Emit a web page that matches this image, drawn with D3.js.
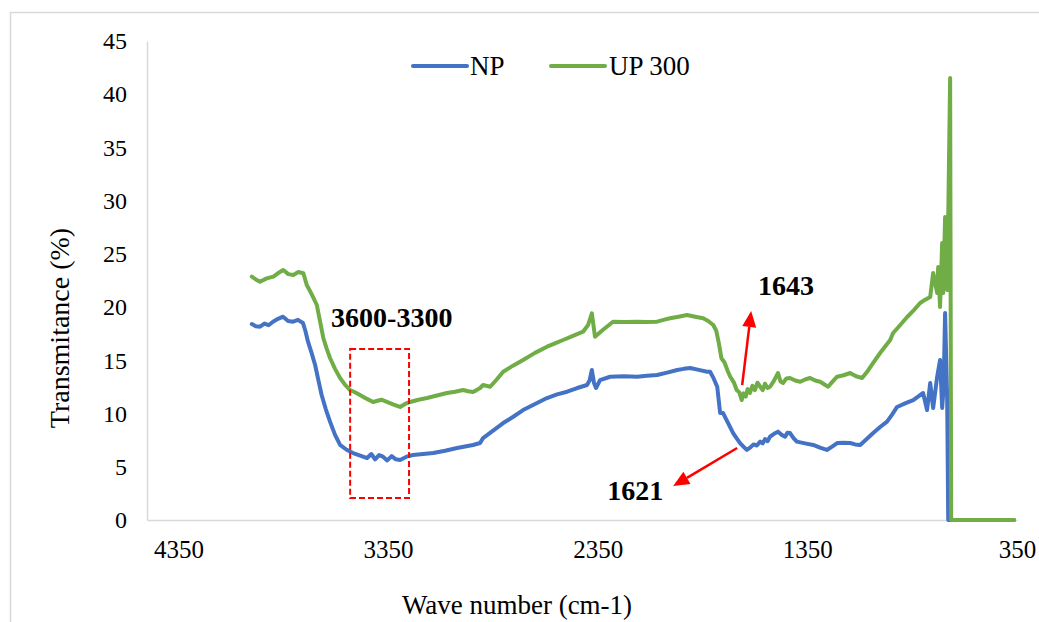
<!DOCTYPE html>
<html>
<head>
<meta charset="utf-8">
<script src="https://cdn.jsdelivr.net/npm/d3@7"></script>
<style>
  html, body { margin: 0; padding: 0; background: #fff; }
  svg { display: block; }
</style>
</head>
<body>
<svg id="chart" width="1039" height="622"></svg>
<script>
// ---- Data ----
const seriesNames = ["NP", "UP 300"];
const seriesColors = ["#4472C4", "#70AD47"];

const npWavenumber = [4000, 3981, 3961, 3940, 3920, 3899, 3875, 3851, 3827, 3803, 3780, 3756, 3745, 3732, 3715, 3698, 3682, 3667, 3647, 3627, 3603, 3579, 3548, 3517, 3483, 3450, 3430, 3412, 3393, 3374, 3354, 3333, 3313, 3293, 3262, 3231, 3183, 3135, 3078, 3021, 2983, 2945, 2911, 2897, 2849, 2801, 2753, 2706, 2649, 2592, 2544, 2496, 2448, 2401, 2389, 2378, 2368, 2358, 2339, 2291, 2226, 2162, 2115, 2067, 2019, 1971, 1940, 1909, 1868, 1828, 1814, 1797, 1780, 1766, 1752, 1728, 1704, 1688, 1671, 1655, 1639, 1623, 1607, 1591, 1575, 1563, 1552, 1540, 1528, 1509, 1490, 1473, 1456, 1445, 1433, 1416, 1400, 1361, 1322, 1290, 1257, 1232, 1208, 1177, 1146, 1122, 1098, 1067, 1036, 1003, 970, 946, 922, 884, 845, 822, 798, 779, 764, 750, 731, 717, 707, 700, 693, 683, 678, 364];
const npTransmittance = [18.41, 18.2, 18.16, 18.45, 18.3, 18.63, 18.9, 19.1, 18.7, 18.63, 18.8, 18.51, 17.8, 16.75, 15.7, 14.56, 13.1, 11.74, 10.4, 9.24, 8.0, 7.05, 6.6, 6.29, 6.05, 5.82, 6.2, 5.7, 6.1, 5.95, 5.6, 6.0, 5.7, 5.64, 5.95, 6.11, 6.2, 6.29, 6.5, 6.76, 6.9, 7.05, 7.23, 7.7, 8.4, 9.11, 9.7, 10.33, 10.9, 11.46, 11.8, 12.05, 12.4, 12.68, 13.1, 14.09, 12.9, 12.4, 13.15, 13.46, 13.5, 13.46, 13.55, 13.62, 13.85, 14.09, 14.2, 14.28, 14.1, 13.93, 13.93, 13.3, 12.52, 10.05, 10.05, 9.1, 8.17, 7.7, 7.23, 6.9, 6.58, 6.8, 7.1, 7.0, 7.36, 7.2, 7.6, 7.4, 7.83, 8.1, 8.3, 8.0, 7.83, 8.2, 8.17, 7.7, 7.36, 7.2, 7.05, 6.8, 6.58, 6.9, 7.23, 7.25, 7.23, 7.1, 7.05, 7.6, 8.17, 8.74, 9.24, 9.9, 10.62, 10.95, 11.27, 11.6, 11.93, 10.33, 12.87, 10.52, 13.43, 15.03, 10.52, 12.5, 19.45, 11.27, 0, 0];

const upWavenumber = [4000, 3981, 3961, 3929, 3897, 3874, 3850, 3826, 3802, 3778, 3754, 3738, 3714, 3690, 3675, 3659, 3643, 3627, 3603, 3579, 3555, 3531, 3508, 3484, 3453, 3422, 3382, 3341, 3317, 3293, 3269, 3245, 3205, 3164, 3117, 3069, 3031, 2992, 2968, 2945, 2928, 2911, 2897, 2863, 2832, 2801, 2754, 2706, 2649, 2592, 2554, 2515, 2468, 2420, 2396, 2378, 2363, 2326, 2277, 2220, 2162, 2115, 2067, 2036, 2005, 1965, 1924, 1885, 1847, 1823, 1799, 1785, 1772, 1760, 1745, 1730, 1718, 1700, 1687, 1675, 1663, 1655, 1644, 1635, 1624, 1612, 1600, 1588, 1575, 1563, 1552, 1540, 1528, 1509, 1490, 1478, 1466, 1450, 1433, 1408, 1384, 1361, 1337, 1313, 1289, 1251, 1230, 1208, 1177, 1146, 1118, 1089, 1062, 1036, 1003, 955, 941, 908, 874, 843, 812, 788, 764, 750, 731, 726, 717, 707, 702, 693, 683, 678, 669, 664, 364];
const upTransmittance = [22.86, 22.6, 22.39, 22.7, 22.86, 23.2, 23.49, 23.1, 23.02, 23.3, 23.18, 22.08, 21.2, 20.2, 18.7, 17.1, 16.1, 15.22, 14.2, 13.34, 12.7, 12.21, 12.0, 11.74, 11.4, 11.09, 11.3, 10.99, 10.8, 10.62, 10.9, 11.09, 11.3, 11.46, 11.7, 11.93, 12.05, 12.21, 12.1, 12.03, 12.2, 12.4, 12.68, 12.52, 13.2, 13.93, 14.5, 15.03, 15.7, 16.28, 16.6, 16.91, 17.3, 17.69, 18.32, 19.42, 17.22, 17.85, 18.63, 18.6, 18.63, 18.6, 18.63, 18.8, 18.95, 19.1, 19.26, 19.1, 18.95, 18.7, 18.32, 17.8, 16.6, 15.2, 14.8, 14.0, 13.46, 12.9, 12.21, 12.0, 11.27, 11.9, 11.6, 12.3, 11.93, 12.6, 12.2, 12.9, 12.52, 12.2, 12.8, 12.4, 12.52, 13.1, 13.81, 13.0, 12.87, 13.3, 13.34, 13.1, 12.99, 13.2, 13.34, 13.1, 12.99, 12.52, 13.0, 13.46, 13.6, 13.81, 13.5, 13.34, 14.0, 14.75, 15.69, 16.91, 17.57, 18.3, 19.07, 19.7, 20.39, 20.7, 20.95, 23.21, 21.33, 23.77, 20.01, 26.02, 21.33, 28.47, 21.61, 28.47, 41.53, 0, 0];

const xTicks = [4350, 3350, 2350, 1350, 350];
const yTicks = [0, 5, 10, 15, 20, 25, 30, 35, 40, 45];

const xTitle = "Wave number (cm-1)";
const yTitle = "Transmitance (%)";

// annotations in data units
const annotationBox = { x0: 3531, x1: 3250, y0: 16.07, y1: 2.07, label: "3600-3300", lx: 3622, ly: 18.13 };
const annotationArrows = [
  { label: "1643", x0: 1661, y0: 12.68, x1: 1618, y1: 19.64, lx: 1585, ly: 21.14 },
  { label: "1621", x0: 1685, y0: 6.76, x1: 1990, y1: 3.19, lx: 2305, ly: 1.88 }
];

// ---- Layout ----
const svg = d3.select("#chart");
const plot = { left: 147, right: 1017, top: 41, bottom: 520 };
const serif = "'Liberation Serif', 'Times New Roman', serif";

const x = d3.scaleLinear().domain([4500, 350]).range([plot.left, plot.right]);
const y = d3.scaleLinear().domain([0, 45]).range([plot.bottom, plot.top]);

// chart area border
svg.append("rect")
  .attr("x", 10.5).attr("y", 12.5)
  .attr("width", 1100).attr("height", 700)
  .attr("fill", "none").attr("stroke", "#d9d9d9").attr("stroke-width", 1.5);

// axes
const xAxis = d3.axisBottom(x).tickValues(xTicks).tickSize(0).tickPadding(20).tickFormat(d3.format("d"));
const gx = svg.append("g").attr("transform", `translate(0,${plot.bottom})`).call(xAxis);
gx.select(".domain").attr("stroke", "#d9d9d9").attr("stroke-width", 1.5);
gx.selectAll("text").attr("font-family", serif).attr("font-size", 25).attr("fill", "#000");

const yAxis = d3.axisLeft(y).tickValues(yTicks).tickSize(0).tickPadding(20);
const gy = svg.append("g").attr("transform", `translate(${plot.left},0)`).call(yAxis);
gy.select(".domain").attr("stroke", "#d9d9d9").attr("stroke-width", 1.5);
gy.selectAll("text").attr("font-family", serif).attr("font-size", 24).attr("fill", "#000");

// titles
svg.append("text")
  .attr("x", 517).attr("y", 614)
  .attr("text-anchor", "middle")
  .attr("font-family", serif).attr("font-size", 27).attr("fill", "#000")
  .text(xTitle);

svg.append("text")
  .attr("transform", "translate(69,328) rotate(-90)")
  .attr("text-anchor", "middle")
  .attr("font-family", serif).attr("font-size", 28).attr("fill", "#000")
  .text(yTitle);

// lines
const line = d3.line().x(d => x(d[0])).y(d => y(d[1]));
const npData = npWavenumber.map((w, i) => [w, npTransmittance[i]]);
const upData = upWavenumber.map((w, i) => [w, upTransmittance[i]]);
[npData, upData].forEach((data, i) => {
  svg.append("path")
    .datum(data)
    .attr("d", line)
    .attr("fill", "none")
    .attr("stroke", seriesColors[i])
    .attr("stroke-width", 4)
    .attr("stroke-linejoin", "round")
    .attr("stroke-linecap", "round");
});

// legend
const legendItems = [
  { x1: 413, x2: 467, tx: 470 },
  { x1: 551, x2: 605, tx: 609 }
];
legendItems.forEach((it, i) => {
  svg.append("line")
    .attr("x1", it.x1).attr("x2", it.x2).attr("y1", 66).attr("y2", 66)
    .attr("stroke", seriesColors[i]).attr("stroke-width", 4).attr("stroke-linecap", "round");
  svg.append("text")
    .attr("x", it.tx).attr("y", 75)
    .attr("font-family", serif).attr("font-size", 27).attr("fill", "#000")
    .text(seriesNames[i]);
});

// annotation box
svg.append("rect")
  .attr("x", x(annotationBox.x0)).attr("y", y(annotationBox.y0))
  .attr("width", x(annotationBox.x1) - x(annotationBox.x0))
  .attr("height", y(annotationBox.y1) - y(annotationBox.y0))
  .attr("fill", "none").attr("stroke", "#ff0000").attr("stroke-width", 2)
  .attr("stroke-dasharray", "6,3");
svg.append("text")
  .attr("x", x(annotationBox.lx)).attr("y", y(annotationBox.ly))
  .attr("font-family", serif).attr("font-size", 28).attr("font-weight", "bold").attr("fill", "#000")
  .text(annotationBox.label);

// arrows
annotationArrows.forEach(a => {
  const px0 = x(a.x0), py0 = y(a.y0), px1 = x(a.x1), py1 = y(a.y1);
  const dx = px1 - px0, dy = py1 - py0, len = Math.hypot(dx, dy);
  const ux = dx / len, uy = dy / len;
  const hl = 16, hw = 7;
  const bx = px1 - ux * hl, by = py1 - uy * hl;
  svg.append("line")
    .attr("x1", px0).attr("y1", py0).attr("x2", bx).attr("y2", by)
    .attr("stroke", "#ff0000").attr("stroke-width", 2.5);
  svg.append("path")
    .attr("d", `M${px1},${py1} L${bx - uy * hw},${by + ux * hw} L${bx + uy * hw},${by - ux * hw} Z`)
    .attr("fill", "#ff0000");
  svg.append("text")
    .attr("x", x(a.lx)).attr("y", y(a.ly))
    .attr("font-family", serif).attr("font-size", 28).attr("font-weight", "bold").attr("fill", "#000")
    .text(a.label);
});
</script>
</body>
</html>
